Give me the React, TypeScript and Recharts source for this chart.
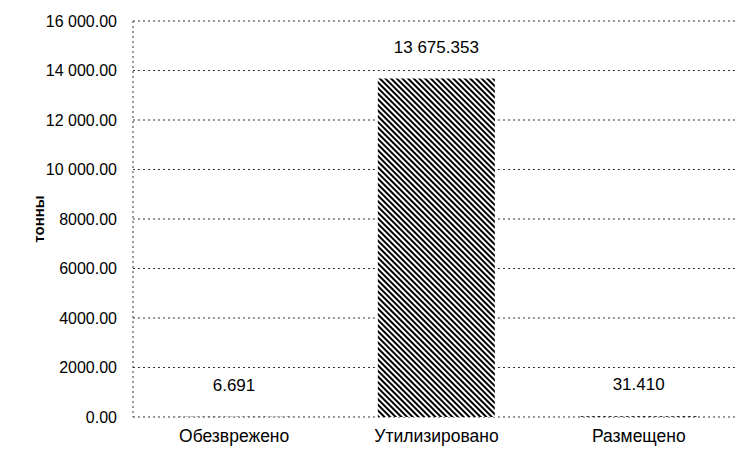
import { BarChart, Bar, XAxis, YAxis, CartesianGrid, LabelList, Label } from 'recharts'

const categories = ['Обезврежено', 'Утилизировано', 'Размещено']
const values = [6.691, 13675.353, 31.41]
const yTicks = [0, 2000, 4000, 6000, 8000, 10000, 12000, 14000, 16000]

const data = categories.map((name, i) => ({ name, value: values[i] }))

const FONT = '"Liberation Sans", Arial, sans-serif'

// 16 000.00 style, but 4-digit numbers stay without a space
function groupDigits(n: number, decimals: number) {
  const [int, frac] = n.toFixed(decimals).split('.')
  const intStr = int.length > 4 ? int.replace(/\B(?=(\d{3})+(?!\d))/g, ' ') : int
  return `${intStr}.${frac}`
}

export default function App() {
  return (
    <div style={{ position: 'absolute', left: 0, top: 0 }}>
      <BarChart
        width={740}
        height={454}
        data={data}
        margin={{ top: 21, right: 0, bottom: 0, left: 0 }}
        barCategoryGap="21%"
      >
        <defs>
          <pattern id="hatch" width="4" height="4" patternUnits="userSpaceOnUse" patternTransform="rotate(-45)">
            <rect width="4" height="4" fill="#fff" />
            <rect width="2" height="4" fill="#000" />
          </pattern>
        </defs>
        <CartesianGrid vertical={false} stroke="#333" strokeDasharray="2 3" />
        <XAxis
          dataKey="name"
          axisLine={false}
          tickLine={false}
          tickSize={0}
          tickMargin={13}
          height={37}
          tick={{ fill: '#000', fontSize: 17.5, fontFamily: FONT }}
        />
        <YAxis
          domain={[0, 16000]}
          ticks={yTicks}
          width={133}
          axisLine={{ stroke: '#333', strokeDasharray: '2 3' }}
          tickLine={false}
          tickSize={0}
          tickMargin={16}
          tickFormatter={(v: number) => groupDigits(v, 2)}
          tick={{ fill: '#000', fontSize: 16, fontFamily: FONT }}
        >
          <Label
            content={({ viewBox }: any) => {
              const cx = viewBox.x + 38
              const cy = viewBox.y + viewBox.height / 2
              return (
                <text
                  x={cx}
                  y={cy}
                  transform={`rotate(-90 ${cx} ${cy})`}
                  textAnchor="middle"
                  dominantBaseline="central"
                  fontFamily={FONT}
                  fontSize={15}
                  fontWeight="bold"
                  fill="#000"
                >
                  тонны
                </text>
              )
            }}
          />
        </YAxis>
        <Bar dataKey="value" fill="url(#hatch)" isAnimationActive={false}>
          <LabelList
            dataKey="value"
            position="top"
            offset={26}
            formatter={(v: number) => groupDigits(v, 3)}
            style={{ fill: '#000', fontSize: 17, fontFamily: FONT }}
          />
        </Bar>
      </BarChart>
    </div>
  )
}
